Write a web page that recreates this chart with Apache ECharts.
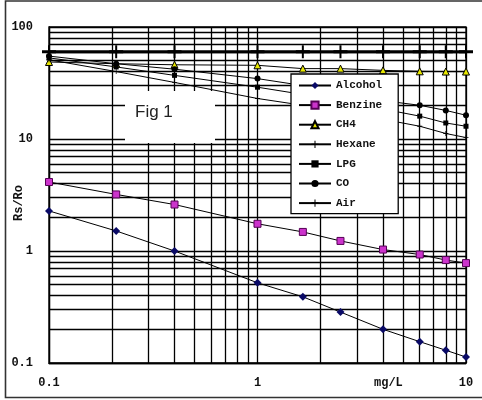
<!DOCTYPE html>
<html>
<head>
<meta charset="utf-8">
<script src="https://cdn.jsdelivr.net/npm/echarts@6/dist/echarts.min.js"></script>
<style>
  html, body { margin: 0; padding: 0; background: #fff; }
  #chart { width: 482px; height: 400px; }
</style>
</head>
<body>
<div id="chart"></div>
<script>
// Gas concentration (mg/L) on the x axis
const concentration = [0.1, 0.21, 0.4, 1, 1.65, 2.5, 4, 6, 8, 10];

// Sensor resistance ratio Rs/Ro for each gas
const alcohol = [2.28, 1.51, 1.0, 0.52, 0.39, 0.285, 0.2, 0.155, 0.13, 0.113];
const benzine = [4.13, 3.2, 2.6, 1.75, 1.48, 1.23, 1.03, 0.93, 0.83, 0.78];
const ch4     = [48.7, 47, 46, 45.5, 42.5, 42.5, 41, 40.2, 40, 40];
const hexane  = [51, 40, 32, 23, 20, 17.5, 15, 13, 11.2, 10.3];
const lpg     = [53, 44, 37, 29, 25, 21.5, 18.5, 16, 13.9, 13];
const co      = [55, 47, 42, 34.6, 30, 26, 22, 20, 18, 16.3];
const air     = [60, 60, 60, 60, 60, 60, 60, 60, 60, 60];

const xTickLabels = ['0.1', '1', '10'];
const yTickLabels = ['0.1', '1', '10', '100'];
const seriesNames = ['Alcohol', 'Benzine', 'CH4', 'Hexane', 'LPG', 'CO', 'Air'];

const pairs = ys => concentration.map((x, i) => [x, ys[i]]);

// Log-scale grid lines at 1..9 within each decade
function decadeLines(first, last) {
  const out = [];
  for (let d = first; d < last * 0.999; d *= 10) {
    for (let m = 1; m <= 9; m++) out.push(d * m);
  }
  out.push(last);
  return out;
}
const xGrid = decadeLines(0.1, 10);
const yGrid = decadeLines(0.1, 100);

function labelFor(list) {
  return v => {
    let best = list[0], bd = Infinity;
    list.forEach(s => {
      const d = Math.abs(Math.log10(+s) - Math.log10(v));
      if (d < bd) { bd = d; best = s; }
    });
    return best;
  };
}

const monoBold = { fontFamily: 'Liberation Mono', fontWeight: 'bold', fontSize: 12, color: '#111' };
const plusPath = 'path://M6,0h2v5h6v2h-6v5h-2v-5h-6v-2h6z';
const barPath = 'path://M0,5h6v-5h2v5h6v3h-6v5h-2v-5h-6z';

function gasSeries(name, ys, symbol, size, fill, stroke, lineWidth) {
  return {
    name, type: 'line', data: pairs(ys), z: 5,
    symbol, symbolSize: size, showSymbol: true,
    lineStyle: { color: '#000', width: lineWidth || 1 },
    itemStyle: { color: fill, borderColor: stroke || fill, borderWidth: stroke ? 1 : 0 },
    emphasis: { disabled: true },
    animation: false
  };
}

const chart = echarts.init(document.getElementById('chart'), null, { renderer: 'canvas' });
chart.setOption({
  animation: false,
  backgroundColor: '#fff',
  grid: { left: 49, right: 16, top: 27, bottom: 37, show: true, borderColor: '#000', borderWidth: 1.3 },
  xAxis: {
    type: 'log', logBase: 10, min: 0.1, max: 10,
    axisLine: { show: true, lineStyle: { color: '#000', width: 1.3 } },
    axisTick: { show: false }, splitLine: { show: false }, minorSplitLine: { show: false },
    axisLabel: Object.assign({ margin: 14, formatter: labelFor(xTickLabels) }, monoBold)
  },
  yAxis: {
    type: 'log', logBase: 10, min: 0.1, max: 100,
    axisLine: { show: true, lineStyle: { color: '#000', width: 1.3 } },
    axisTick: { show: false }, splitLine: { show: false }, minorSplitLine: { show: false },
    axisLabel: Object.assign({ margin: 16, formatter: labelFor(yTickLabels) }, monoBold)
  },
  legend: {
    data: seriesNames,
    orient: 'vertical', left: 291, top: 74,
    padding: [6, 16, 5, 7],
    itemWidth: 32, itemHeight: 9, itemGap: 8.6,
    backgroundColor: '#fff', borderColor: '#000', borderWidth: 1.3,
    z: 10,
    textStyle: { fontFamily: 'Liberation Mono', fontWeight: 'bold', fontSize: 11, color: '#111' }
  },
  graphic: [
    { type: 'rect', z: 100, silent: true,
      shape: { x: 5.5, y: 1, width: 500, height: 396.5 },
      style: { fill: 'none', stroke: '#333', lineWidth: 1.6 } },
    { type: 'rect', z: 3, silent: true,
      shape: { x: 125, y: 91, width: 90, height: 52 },
      style: { fill: '#fff' } },
    { type: 'text', z: 4, silent: true, left: 135, top: 104,
      style: { text: 'Fig 1', font: '17px "Liberation Sans"', fill: '#222' } },
    { type: 'text', z: 4, silent: true, left: 374, top: 377,
      style: { text: 'mg/L', font: 'bold 12px "Liberation Mono"', fill: '#111' } },
    { type: 'text', z: 4, silent: true, x: 13, y: 221, rotation: Math.PI / 2,
      style: { text: 'Rs/Ro', font: 'bold 12px "Liberation Mono"', fill: '#111' } }
  ],
  series: [
    {
      name: 'grid-lines', type: 'line', data: [], z: 1, silent: true,
      markLine: {
        z: 1, silent: true, symbol: 'none', animation: false,
        label: { show: false },
        lineStyle: { color: '#000', width: 1.3, type: 'solid' },
        emphasis: { disabled: true },
        data: xGrid.map(v => ({ xAxis: v })).concat(yGrid.map(v => ({ yAxis: v })))
      }
    },
    gasSeries('Alcohol', alcohol, 'diamond', 8, '#0a0a66'),
    gasSeries('Benzine', benzine, 'rect', 7, '#cc33cc', '#550055'),
    gasSeries('CH4', ch4, 'triangle', 7, '#e6e600', '#000'),
    gasSeries('Hexane', hexane, plusPath, 5, '#000'),
    gasSeries('LPG', lpg, 'rect', 5, '#000'),
    gasSeries('CO', co, 'circle', 6, '#000'),
    gasSeries('Air', air, barPath, [14, 13], '#000', null, 3)
  ]
});
</script>
</body>
</html>
